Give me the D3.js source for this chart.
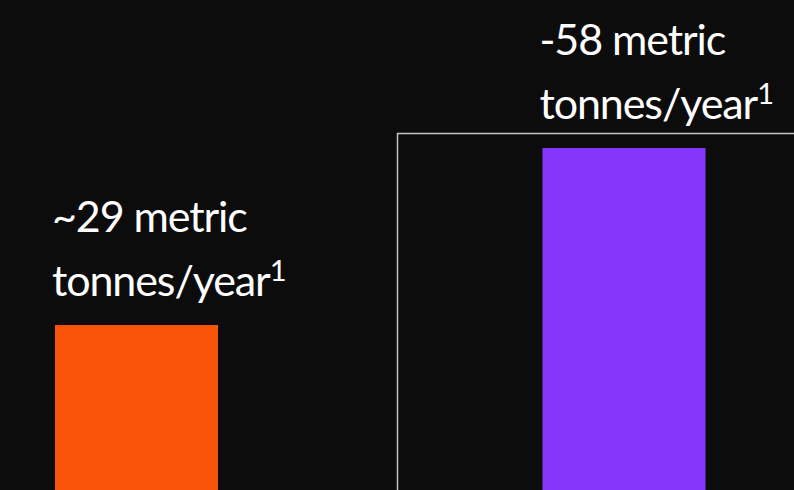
<!DOCTYPE html>
<html>
<head>
<meta charset="utf-8">
<script src="https://cdn.jsdelivr.net/npm/d3@7"></script>
<style>
  html, body { margin: 0; padding: 0; background: #0c0c0c; }
  svg { display: block; }
</style>
</head>
<body>
<div id="chart"></div>
<script>
const categories = ["current", "target"];
const values = [29, 58];
const prefixes = ["~", "-"];
const unitLines = ["metric", "tonnes/year"];
const footnote = "1";
const colors = ["#fa540a", "#8636fa"];

const width = 794;
const height = 490;

const x = d3.scaleBand()
    .domain(categories)
    .range([-42.5, 803])
    .paddingInner(0.6656)
    .paddingOuter(0.2);

const y = d3.scaleLinear()
    .domain([0, d3.max(values)])
    .range([502, 148]);

const svg = d3.select("#chart").append("svg")
    .attr("width", width)
    .attr("height", height)
    .attr("viewBox", [0, 0, width, height]);

svg.append("rect")
    .attr("width", width)
    .attr("height", height)
    .attr("fill", "#0c0c0c");

// outline box around the second bar, running off the edge
svg.append("rect")
    .attr("x", 397.5)
    .attr("y", 133.5)
    .attr("width", 600)
    .attr("height", 600)
    .attr("fill", "none")
    .attr("stroke", "#c4c4c4")
    .attr("stroke-width", 1.5);

svg.selectAll(".bar")
    .data(categories)
    .join("rect")
    .attr("class", "bar")
    .attr("x", d => x(d))
    .attr("y", (d, i) => y(values[i]))
    .attr("width", x.bandwidth())
    .attr("height", (d, i) => y(0) - y(values[i]))
    .attr("fill", (d, i) => colors[i]);

const label = svg.selectAll(".label")
    .data(categories)
    .join("text")
    .attr("class", "label")
    .attr("fill", "#ffffff")
    .attr("font-family", "Lato, 'Open Sans', sans-serif")
    .attr("font-size", 43)
    .attr("letter-spacing", -1.1);

label.append("tspan")
    .attr("x", d => x(d) - 3)
    .attr("y", (d, i) => y(values[i]) - 93)
    .text((d, i) => prefixes[i] + values[i] + " " + unitLines[0]);

label.append("tspan")
    .attr("x", d => x(d) - 3)
    .attr("y", (d, i) => y(values[i]) - 29)
    .text(unitLines[1]);

label.append("tspan")
    .attr("font-size", 29)
    .attr("dy", -15)
    .text(footnote);
</script>
</body>
</html>
